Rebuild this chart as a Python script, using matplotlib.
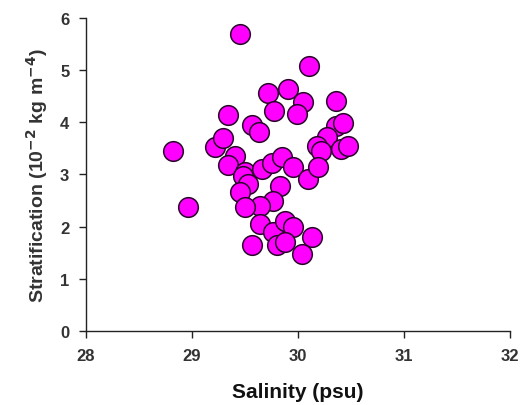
import numpy as np
import matplotlib
matplotlib.use('Agg')
import matplotlib.pyplot as plt
from matplotlib import rc

rc('font', **{'family': 'sans-serif', 'sans-serif': ['Liberation Sans', 'DejaVu Sans']})
rc('mathtext', default='bf')

# salinity (psu) and stratification (1e-2 kg m^-4) for each station
salinity = [29.45, 30.10, 29.72, 29.91, 30.05, 29.77, 29.99, 30.36, 29.34, 29.57,
            29.63, 30.36, 30.42, 30.27, 30.18, 30.41, 30.47, 30.22, 28.82, 29.22,
            29.29, 29.41, 29.34, 29.50, 29.66, 29.75, 29.85, 29.95, 30.09, 30.19,
            29.48, 29.53, 29.45, 29.83, 29.76, 29.64, 29.50, 28.96, 29.64, 29.76,
            29.88, 29.95, 30.13, 29.57, 29.80, 29.88, 30.04]
stratification = [5.69, 5.08, 4.56, 4.64, 4.39, 4.22, 4.16, 4.41, 4.14, 3.95,
                  3.81, 3.93, 3.98, 3.72, 3.55, 3.49, 3.54, 3.45, 3.45, 3.53,
                  3.70, 3.35, 3.18, 3.05, 3.10, 3.22, 3.33, 3.14, 2.91, 3.14,
                  2.97, 2.82, 2.66, 2.78, 2.49, 2.39, 2.37, 2.37, 2.05, 1.89,
                  2.11, 1.99, 1.80, 1.64, 1.64, 1.70, 1.47]

fig = plt.figure(figsize=(5.32, 4.06), dpi=100)
ax = fig.add_axes([0.1617, 0.1823, 0.7969, 0.7709])

ax.scatter(salinity, stratification, s=200, c='#ff00ff', edgecolors='#2a052a',
           linewidths=1.1, zorder=3, clip_on=False)

ax.set_xlim(28, 32)
ax.set_ylim(0, 6)
ax.set_xticks([28, 29, 30, 31, 32])
ax.set_yticks([0, 1, 2, 3, 4, 5, 6])

for side in ['top', 'right']:
    ax.spines[side].set_visible(False)
for side in ['left', 'bottom']:
    ax.spines[side].set_linewidth(1.0)
    ax.spines[side].set_color('#222222')

ax.tick_params(direction='out', length=5, width=1.0, color='#222222',
               labelsize=12, pad=7)
for lab in ax.get_xticklabels() + ax.get_yticklabels():
    lab.set_fontweight('bold')
    lab.set_color('#333333')

ax.set_xlabel('Salinity (psu)', fontsize=15, fontweight='bold', labelpad=14,
              color='#111111')
ax.set_ylabel('Stratification (10$^{-2}$ kg m$^{-4}$)',
              fontsize=14, fontweight='bold', labelpad=7, color='#333333')

plt.savefig('out.png', dpi=100)
